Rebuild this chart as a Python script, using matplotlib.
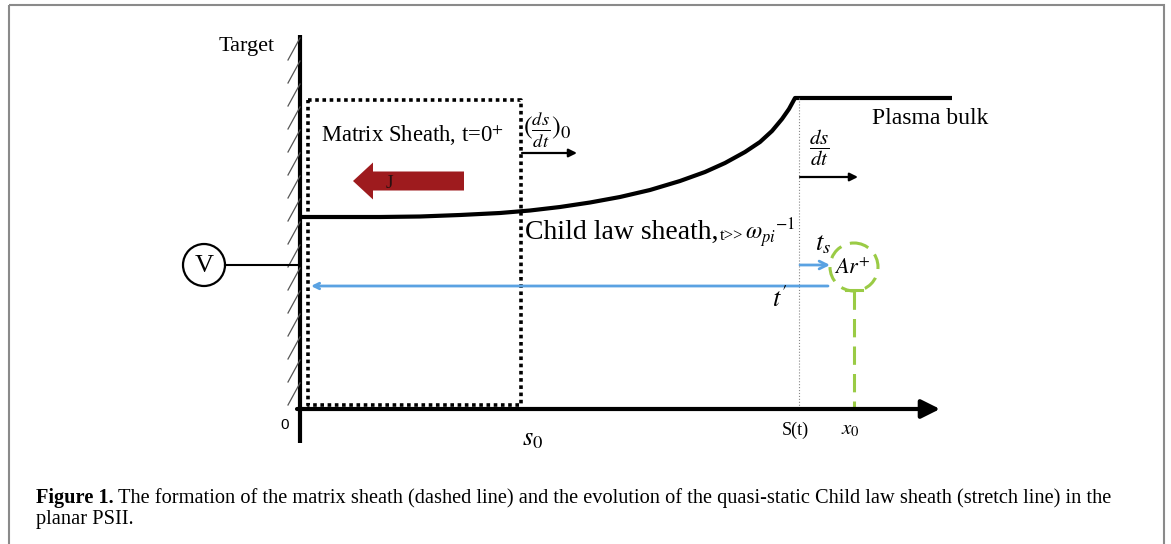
import numpy as np
import matplotlib.pyplot as plt
from matplotlib.patches import Rectangle, Circle, FancyArrow

plt.rcParams['mathtext.fontset'] = 'stix'
serif = 'Liberation Serif'

# key positions along the x axis (pixels of the sketch)
wall_x = 300
axis_y = 409
s0_x = 521
st_x = 799
x0_x = 854

# matrix sheath box (dashed)
box_x = [308, 521, 521, 308, 308]
box_y = [100, 100, 405, 405, 100]

# child law sheath edge
curve_x = [302, 380, 420, 460, 500, 530, 560, 590, 620, 650, 680, 705, 725, 745,
           760, 772, 782, 789, 795, 952]
curve_y = [217, 217, 216.5, 215, 213, 210.5, 207, 202.5, 197, 190, 181, 172, 163, 152,
           142, 131, 119, 109, 98, 98]

# hatching on the target
hatch_top = np.arange(38, 400, 23)

fig = plt.figure(figsize=(11.71, 5.44), dpi=100)
ax = fig.add_axes([0, 0, 1, 1])
ax.set_xlim(0, 1171)
ax.set_ylim(544, 0)
ax.axis('off')

# outer frame
ax.add_patch(Rectangle((9, 5), 1155, 600, fill=False, edgecolor='#8a8a8a', lw=1.5))

# target wall and hatching
ax.plot([wall_x, wall_x], [35, 443], color='black', lw=3, solid_capstyle='butt')
for yt in hatch_top:
    ax.plot([wall_x - 12, wall_x], [yt + 22, yt], color='#555555', lw=0.9)
ax.text(275, 47, 'Target', family=serif, fontsize=16, ha='right', va='center')

# x axis
ax.annotate('', xy=(940, axis_y), xytext=(297, axis_y),
            arrowprops=dict(arrowstyle='-|>', lw=3, mutation_scale=28,
                            color='black', shrinkA=0, shrinkB=0))
ax.text(285, 425, '0', fontsize=11, ha='center', va='center', family='Liberation Sans')

# matrix sheath
ax.plot(box_x, box_y, color='black', lw=2.6, linestyle=(0, (1, 1)), dash_capstyle='butt')
ax.text(321, 135, r'Matrix Sheath, t=0$^{+}$', family=serif, fontsize=16.3, va='center')
ax.text(523, 130, r'$(\frac{ds}{dt})_0$', fontsize=19, va='center')
ax.annotate('', xy=(577, 153), xytext=(522, 153),
            arrowprops=dict(arrowstyle='-|>', lw=1.6, mutation_scale=12,
                            color='black', shrinkA=0, shrinkB=0))

# current J
ax.add_patch(FancyArrow(464, 181, -111, 0, width=19, head_width=37, head_length=20,
                        length_includes_head=True, color='#9e1b1e', lw=0))
ax.text(389, 183, 'J', family=serif, fontsize=14, color='#2a1010', ha='center', va='center')

# child law sheath
ax.plot(curve_x, curve_y, color='black', lw=3, solid_capstyle='butt', solid_joinstyle='round')
ax.text(525, 232, 'Child law sheath,', family=serif, fontsize=20, va='center')
ax.text(720, 236, r't>>', family=serif, fontsize=12, va='center')
ax.text(745, 233, r'$\omega_{pi}{}^{-1}$', fontsize=17, va='center')
ax.text(872, 118, 'Plasma bulk', family=serif, fontsize=17, va='center')

# sheath edge position S(t)
ax.plot([st_x, st_x], [98, 407], color='#888888', lw=0.8, linestyle=':')
ax.text(809, 148, r'$\dfrac{ds}{dt}$', fontsize=15, va='center')
ax.annotate('', xy=(858, 177), xytext=(800, 177),
            arrowprops=dict(arrowstyle='-|>', lw=1.6, mutation_scale=12,
                            color='black', shrinkA=0, shrinkB=0))

# ion Ar+
blue = '#5aa2e2'
green = '#9acb45'
ax.text(815, 243, r'$t_s$', fontsize=19, va='center')
ax.annotate('', xy=(830, 265), xytext=(800, 265),
            arrowprops=dict(arrowstyle='->', lw=2, mutation_scale=14,
                            color=blue, shrinkA=0, shrinkB=0))
ax.add_patch(Circle((x0_x, 267), 24, fill=False, edgecolor=green, lw=2.2,
                    linestyle=(0, (5, 3))))
ax.text(852, 268, r'$Ar^{+}$', fontsize=16, ha='center', va='center')
ax.annotate('', xy=(311, 286), xytext=(828, 286),
            arrowprops=dict(arrowstyle='->', lw=2, mutation_scale=10,
                            color=blue, shrinkA=0, shrinkB=0))
ax.text(780, 300, r"$t'$", fontsize=19, ha='center', va='center')
ax.plot([x0_x, x0_x], [291, 408], color=green, lw=2.2, linestyle=(0, (6, 3)))
ax.plot([x0_x - 8, x0_x + 8], [290, 290], color=green, lw=2.2)

# voltage source
ax.add_patch(Circle((204, 265), 21, fill=False, edgecolor='black', lw=1.6))
ax.text(204, 266, 'V', family=serif, fontsize=19, ha='center', va='center')
ax.plot([225, wall_x], [265, 265], color='black', lw=1.5)

# axis labels
ax.text(533, 438, r'$s_0$', fontsize=19, ha='center', va='center')
ax.text(795, 430, 'S(t)', family=serif, fontsize=13, ha='center', va='center')
ax.text(850, 429, r'$x_0$', fontsize=15, ha='center', va='center')

# caption
cap1 = ('The formation of the matrix sheath (dashed line) and the evolution of the '
        'quasi-static Child law sheath (stretch line) in the')
cap2 = 'planar PSII.'
t_bold = ax.text(36, 503, 'Figure 1.', family=serif, weight='bold', fontsize=13, va='baseline')
t_rest = ax.text(0, 503, cap1, family=serif, fontsize=13, va='baseline')
t_2 = ax.text(36, 524, cap2, family=serif, fontsize=13, va='baseline')
r = fig.canvas.get_renderer()
wb = t_bold.get_window_extent(r).width
wr = t_rest.get_window_extent(r).width
scale = (1112 - 36) / (wb + wr + 5)
for t in (t_bold, t_rest, t_2):
    t.set_fontsize(13 * scale)
wb = t_bold.get_window_extent(r).width
t_rest.set_x(36 + wb + 4)

fig.savefig('out.png', dpi=100)
